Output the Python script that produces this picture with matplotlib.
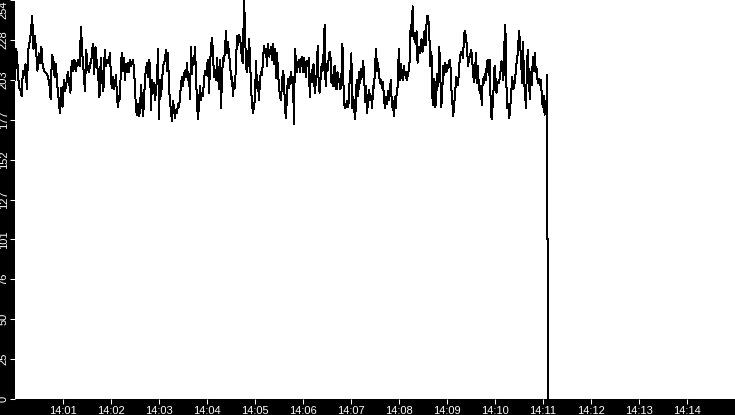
import numpy as np
import matplotlib
matplotlib.use("Agg")
import matplotlib.pyplot as plt

# ---- data ----
# sample values per chunk; chunk_edges are the time spans (seconds after 14:00:00)
chunk1 = [203, 223, 212, 198, 197, 193, 209, 206, 213, 197, 222, 227, 233, 244, 223, 231, 222, 209,
          220, 214, 224, 212, 209, 208, 207, 205, 201, 191, 219, 217, 205, 213, 200, 192, 182, 198,
          186, 203, 196, 201, 208, 202, 195, 215, 209, 216, 209, 213, 216, 212, 237, 220, 209, 196,
          222, 212, 208, 213, 217, 226, 207, 224, 214, 207, 192, 217, 203, 196, 222, 212, 216, 214]
chunk2 = [220, 203, 198, 205, 197, 201, 206, 192, 186, 193, 191, 215, 220, 209, 217, 203, 213, 208,
          214, 208, 216, 212, 214, 216, 210, 198, 184, 181, 188, 180, 184, 200, 190, 180, 189, 205,
          209, 214, 205, 216, 212, 184, 203, 195, 201, 190, 197, 203, 223, 178, 203, 193, 201, 212,
          214, 216, 222, 209, 220, 198, 190, 183, 177, 190, 185, 179, 184, 182, 188, 186, 192, 201,
          205, 199, 206, 209, 205, 214, 203, 207, 191, 224, 207, 217, 213, 224, 205, 188, 178, 189]
chunk3 = [199, 190, 195, 193, 203, 209, 206, 212, 216, 195, 212, 224, 230, 220, 205, 209, 203, 217,
          207, 197, 216, 185, 205, 217, 215, 222, 234, 220, 227, 219, 214, 204, 205, 193, 201, 198,
          214, 231, 225, 232, 230, 224, 216, 214, 258, 234, 212, 208, 215, 229, 218, 198, 188, 182,
          186, 192, 215, 198, 202, 190, 204, 208, 206, 216, 225, 220, 223, 212, 226, 218, 221, 224,
          216, 226, 213, 223, 204, 220, 208, 199, 193, 190, 201, 209, 204, 184, 179, 195, 204, 198]
chunk4 = [203, 208, 201, 205, 175, 223, 215, 208, 213, 216, 208, 215, 218, 208, 217, 214, 205, 215,
          212, 217, 192, 207, 202, 212, 213, 195, 201, 207, 225, 200, 195, 205, 213, 209, 221, 238,
          199, 213, 209, 216, 221, 217, 201, 206, 199, 212, 202, 197, 208, 204, 202, 197, 206, 226,
          201, 187, 185, 188, 190, 186, 200, 207, 220, 185, 192, 184, 178, 199, 203, 193, 208, 201,
          210, 205, 215, 205, 189, 199, 182, 192, 197, 190, 193, 185, 199, 198, 212, 223, 209, 214,
          207]
chunk5 = [201, 203, 198, 202, 192, 185, 192, 188, 196, 190, 197, 203, 186, 190, 180, 192, 185, 197,
          199, 223, 203, 213, 208, 203, 212, 206, 208, 203, 206, 209, 215, 238, 231, 250, 229, 233,
          226, 234, 214, 224, 220, 223, 229, 221, 227, 234, 225, 238, 244, 241, 229, 212, 221, 192,
          187, 204, 186, 195, 207, 199, 224, 204, 186, 197, 212, 206, 214, 208, 210, 212, 215, 216,
          199, 191, 180, 188, 195, 205, 203, 200, 212, 218, 221, 220, 217, 233, 234, 229, 224, 212,
          217]
chunk6 = [218, 222, 219, 208, 202, 206, 220, 201, 212, 199, 195, 199, 187, 204, 201, 207, 203, 212,
          216, 206, 216, 190, 178, 186, 197, 212, 204, 195, 202, 201, 203, 208, 215, 213, 203, 226,
          238, 201, 185, 188, 179, 186, 195, 205, 197, 200, 203, 213, 215, 225, 234, 225, 217, 201,
          227, 203, 195, 185, 214, 222, 202, 191, 208, 200, 218, 209, 220, 208, 210, 201, 204, 200,
          203, 195, 186, 193, 181, 190, 182]
drop_values = [206, 102, 102, 0]
drop_seconds = [665.0, 665.2, 666.5, 666.6]
chunk_edges = [0.0, 118.75, 231.25, 343.75, 456.25, 568.75, 664.5]

x_tick_labels = ["14:01", "14:02", "14:03", "14:04", "14:05", "14:06", "14:07",
                 "14:08", "14:09", "14:10", "14:11", "14:12", "14:13", "14:14"]
y_tick_labels = ["0", "25", "50", "76", "101", "127", "152", "177", "203", "228", "254"]
y_max = 254

# ---- build series ----
chunks = [chunk1, chunk2, chunk3, chunk4, chunk5, chunk6]
secs, vals = [], []
for i, ch in enumerate(chunks):
    last = (i == len(chunks) - 1)
    t = np.linspace(chunk_edges[i], chunk_edges[i + 1], len(ch), endpoint=last)
    secs.extend(t)
    vals.extend(ch)
secs.extend(drop_seconds)
vals.extend(drop_values)

# ---- figure ----
W, H = 735, 415
fig = plt.figure(figsize=(W / 100, H / 100), dpi=100, facecolor="black")
ax = fig.add_axes([15 / W, 16 / H, 720 / W, 399 / H])
ax.set_facecolor("white")
ax.plot(secs, vals, color="black", lw=0.72, antialiased=False)

ax.set_xlim(0, 900)
ax.set_ylim(0, y_max)
ax.set_xticks([60 * (i + 1) for i in range(len(x_tick_labels))])
ax.set_xticklabels(x_tick_labels)
yt = np.linspace(0, y_max, len(y_tick_labels))
ax.set_yticks(yt)
ax.set_yticklabels(y_tick_labels, rotation=90, va="center")

for s in ax.spines.values():
    s.set_visible(False)

ax.tick_params(axis="both", colors="white", direction="out", length=3.6, width=0.75,
               labelsize=8, labelcolor="white")
ax.tick_params(axis="x", pad=1.5)
ax.tick_params(axis="y", pad=1)
for lab in ax.get_xticklabels() + ax.get_yticklabels():
    lab.set_family("Liberation Sans")
ax.get_yticklabels()[-1].set_va("top")

fig.savefig("out.png", dpi=100, facecolor="black")
